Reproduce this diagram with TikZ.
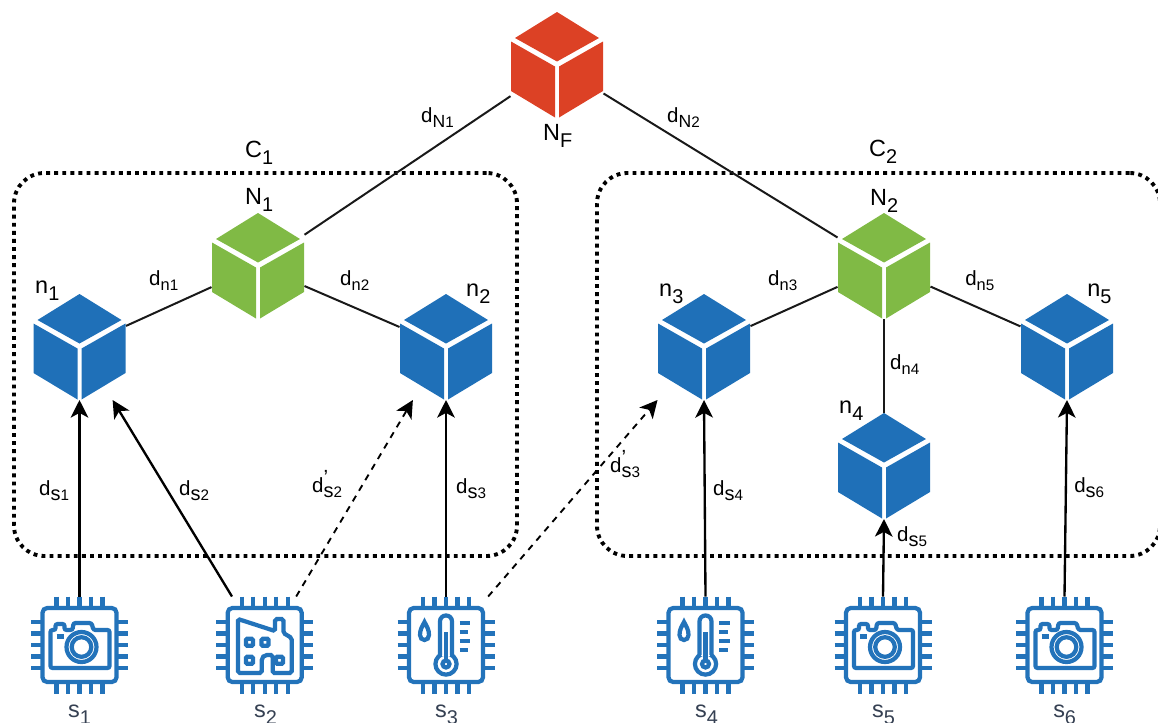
\documentclass[tikz,border=0pt]{standalone}
\usepackage{fontspec}
\setmainfont{Liberation Sans}
\usetikzlibrary{arrows.meta}
\definecolor{cubeblue}{HTML}{1F70B8}
\definecolor{chipblue}{HTML}{2373BA}
\definecolor{cubegreen}{HTML}{80BA45}
\definecolor{cubered}{HTML}{DC4125}
\definecolor{slate}{HTML}{354052}
\newcommand{\biglab}[2]{{\fontsize{20}{22}\selectfont #1\raisebox{-6.5pt}{\fontsize{17}{18}\selectfont #2}}}
\newcommand{\dlab}[3][17]{{\fontsize{17.5}{20}\selectfont d\raisebox{-5pt}{\fontsize{#1}{18}\selectfont #2\fontsize{13}{14}\selectfont #3}}}
\newcommand{\dplab}[2]{{\fontsize{17.5}{20}\selectfont d\rlap{\raisebox{6pt}{'}}\raisebox{-5pt}{\fontsize{17}{18}\selectfont #1\fontsize{13}{14}\selectfont #2}}}
\begin{document}
\begin{tikzpicture}[x=0.03cm,y=-0.03cm,
    cubebox/.style={minimum width=2.79cm,minimum height=3.18cm,inner sep=0pt,outer sep=0pt},
    chipbox/.style={minimum width=2.91cm,minimum height=2.91cm,inner sep=0pt,outer sep=0pt},
    chipline/.style={draw=chipblue,line width=3.6pt},
    cluster/.style={draw=black,line width=3.3pt,dash pattern=on 3.3pt off 3.6pt,rounded corners=26pt,minimum height=11.49cm,inner sep=0pt},
    link/.style={draw=black!90,line width=1.7pt},
    sense/.style={draw=black,line width=2pt,-{Stealth[length=15pt,width=15pt,inset=4pt]}},
    alt/.style={sense,line width=1.6pt,dash pattern=on 5.5pt off 5pt},
    lab/.style={anchor=base west,inner sep=0pt}]
    \useasboundingbox (0,0) rectangle (1158,722);
    \clip (0,0) rectangle (1158,722);
    \def\mycube#1#2#3{
        \node[cubebox] (#1) at (#2) {};
        \begin{scope}[shift={(#2)}]
            \fill[#3] (0,-53) -- (42,-27) -- (0,-3.5) -- (-42,-27) -- cycle;
            \fill[#3] (-46,-23.5) -- (-2,1.5) -- (-2,52.5) -- (-46,26) -- cycle;
            \fill[#3] (46,-23.5) -- (2,1.5) -- (2,52.5) -- (46,26) -- cycle;
        \end{scope}}
    \def\mychip#1#2#3{
        \node[chipbox] (#1) at (#2) {};
        \begin{scope}[shift={(#2)}]
            \draw[chipline,rounded corners=4pt] (-37,-37) rectangle (37,37);
            \foreach \p in {-23,-11.5,0,11.5,23}
                \draw[chipline] (\p,-48.5) -- (\p,-38) (\p,38) -- (\p,48.5) (-48.5,\p) -- (-38,\p) (38,\p) -- (48.5,\p);
            #3
        \end{scope}}
    \def\cameraicon{
        \draw[chipline,rounded corners=1.8pt] (-29,-15) -- (-24,-15) -- (-24,-21) -- (-15,-21) -- (-15,-15) -- (-7,-15) -- (-6,-22) -- (12,-22) -- (14,-15) -- (30,-15) -- (30,23) -- (-29,23) -- cycle;
        \draw[chipline] (-23,-8.5) -- (-16,-8.5);
        \draw[chipline,fill=white] (2,2) circle[radius=15];
        \draw[chipline] (2,2) circle[radius=9.8];}
    \def\factoryicon{
        \draw[chipline,rounded corners=1.5pt] (-26.7,-26) -- (-26.7,28) -- (-3,28) -- (-3,16) to[rounded corners=4.5pt] (-3,10) -- (8,10) to[rounded corners=1.5pt] (8,28) -- (27,28) -- (27,-7) -- (18.7,-12) -- (18.7,-26) -- (10.3,-26) -- (10.3,-14) -- cycle;
        \foreach \wx/\wy in {-15.3/-2.7,0.3/-2.7,-15.3/15.3,14.7/15.3}
            \draw[chipline,rounded corners=1pt] (\wx-3.5,\wy-3.5) rectangle (\wx+3.5,\wy+3.5);}
    \def\thermoicon{
        \draw[chipline] (-21.5,-23) .. controls (-19,-18) and (-17,-15.5) .. (-17,-10) .. controls (-17,-7) and (-19,-5) .. (-21.5,-5) .. controls (-24,-5) and (-26,-7) .. (-26,-10) .. controls (-26,-15.5) and (-24,-18) .. cycle;
        \draw[chipline] (0,19) circle[radius=10.6];
        \fill[white] (-4.2,5) rectangle (4.2,11);
        \draw[chipline,rounded corners=5pt] (-6,10) -- (-6,-29.5) -- (6,-29.5) -- (6,10);
        \draw[chipline] (0,-13) -- (0,14.5);
        \draw[chipline] (0,19) circle[radius=3.5];
        \draw[chipline] (13.5,-22.3) -- (24,-22.3) (13.5,-13.3) -- (22,-13.3) (13.5,-4.3) -- (24,-4.3) (13.5,4.7) -- (22,4.7);}

    \node[cluster,minimum width=15.09cm] (C1box) at (265.5,364.5) {};
    \node[cluster,minimum width=16.89cm] (C2box) at (878.5,364.5) {};

    \foreach \nm/\pos/\col in {NF/{557,65}/cubered,N1/{258,266}/cubegreen,N2/{884,266}/cubegreen,
        n1/{79.5,347}/cubeblue,n2/{446,347}/cubeblue,n3/{704,347}/cubeblue,n4/{884,466}/cubeblue,n5/{1067,347}/cubeblue}
        \mycube{\nm}{\pos}{\col};
    \foreach \nm/\pos/\icon in {s1/{79.5,645}/\cameraicon,s2/{264.7,645}/\factoryicon,s3/{446,645}/\thermoicon,
        s4/{705.5,645}/\thermoicon,s5/{883,645}/\cameraicon,s6/{1064.5,645}/\cameraicon}
        \mychip{\nm}{\pos}{\icon};

    \draw[link] (N1) -- (NF);
    \draw[link] (N2) -- (NF);
    \draw[link] (n1) -- (N1);
    \draw[link] (n2) -- (N1);
    \draw[link] (n3) -- (N2);
    \draw[link] (n4) -- (N2);
    \draw[link] (n5) -- (N2);

    \draw[sense] (s1.north) -- (n1.south);
    \draw[sense] (s2.124) -- (n1.-58);
    \draw[alt] (s2.57) -- (n2.238);
    \draw[sense] (s3.north) -- (n2.south);
    \draw[alt] (s3.49.5) -- (n3.south west);
    \draw[sense] (s4.north) -- (n3.south);
    \draw[sense] (s5.north) -- (n4.south);
    \draw[sense] (s6.north) -- (n5.south);

    \foreach \nm/\x/\y/\a/\b in {lNF/543/140/N/F,lC1/245/157/C/1,lC2/869/156/C/2,lN1/245/204/N/1,lN2/870/205/N/2,
        ln1/35/293/n/1,ln2/466/296/n/2,ln3/659/296/n/3,ln4/839/413/n/4,ln5/1087/296/n/5}
        \node[lab] (\nm) at (\x,\y) {\biglab{\a}{\b}};
    \foreach \nm/\x/\b in {ls1/68/1,ls2/254/2,ls3/435/3,ls4/695/4,ls5/872/5,ls6/1053/6}
        \node[lab,text=slate] (\nm) at (\x,717) {\biglab{s}{\b}};
    \foreach \nm/\x/\y/\b in {ldN1/421/122/1,ldN2/667/122/2}
        \node[lab] (\nm) at (\x,\y) {\dlab[15]{N}{\b}};
    \foreach \nm/\x/\y/\b in {ldn1/149/285/1,ldn2/340/285/2,ldn3/768/285/3,ldn4/890/369/4,ldn5/965/285/5}
        \node[lab] (\nm) at (\x,\y) {\dlab[14]{n}{\b}};
    \foreach \nm/\x/\y/\b in {lds1/39/495/1,lds2/179/495/2,lds3/456/493/3,lds4/713/495/4,lds5/897/541/5,lds6/1074/492/6}
        \node[lab] (\nm) at (\x,\y) {\dlab{s}{\b}};
    \node[lab] (ldp2) at (312,492) {\dplab{s}{2}};
    \node[lab] (ldp3) at (610,472) {\dplab{s}{3}};
\end{tikzpicture}
\end{document}
